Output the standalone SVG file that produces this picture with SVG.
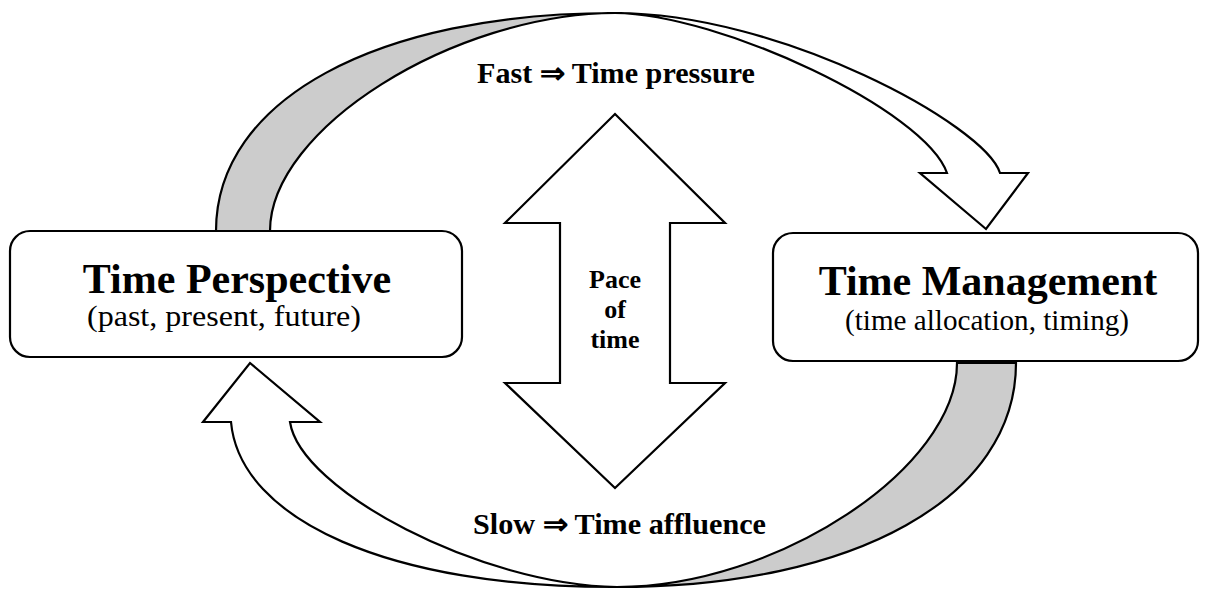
<svg xmlns="http://www.w3.org/2000/svg" width="1206" height="594" viewBox="0 0 1206 594">
<style>
.ln{stroke:#000;stroke-width:2.2;stroke-linejoin:miter}
.back{fill:#cccccc}
.front{fill:#fff}
.box{fill:#fff;stroke:#000;stroke-width:2.2}
.t{font-family:"Liberation Serif","Times New Roman",serif;fill:#000;text-anchor:middle}
.s{text-anchor:start}
.title{font-size:42px;font-weight:bold}
.sub{font-size:30px}
.lab{font-size:29px;font-weight:bold}
.pace{font-size:26px;font-weight:bold}
</style>
<rect width="1206" height="594" fill="#fff"/>
<g id="connectors">
  <g id="arrow-top">
    <path class="ln back" d="M216,231 C216,100 376,13 615,13 C453,14 270,129 270,231 Z"/>
    <path class="ln front" d="M615,13 C780,13 985,125 1000,173 L1028,173 L986,229 L920,173 L947,173 C925,110 720,14 615,13 Z"/>
  </g>
  <g id="arrow-bottom">
    <path class="ln back" d="M1016,363 C1016,497 856,587 617,587 C777,587 957,468 957,363 Z"/>
    <path class="ln front" d="M617,587 C390,588 240,520 231,422 L203,422 L250,363 L320,422 L290,422 C300,490 480,585 617,587 Z"/>
  </g>
  <g id="pace-arrow">
    <polygon class="ln front" points="615,114 725,223 670,223 670,383 725,383 615,488 505,383 560,383 560,223 505,223"/>
    <text class="t pace" x="615" y="288">Pace</text>
    <text class="t pace" x="615" y="318">of</text>
    <text class="t pace" x="615" y="348">time</text>
  </g>
</g>
<g id="node-time-perspective">
  <rect class="box" x="10" y="231" width="452" height="126" rx="20" ry="20"/>
  <text class="t title" x="237" y="293">Time Perspective</text>
  <text class="t sub s" x="87" y="326" textLength="274" lengthAdjust="spacingAndGlyphs">(past, present, future)</text>
</g>
<g id="node-time-management">
  <rect class="box" x="773" y="233" width="425" height="128" rx="20" ry="20"/>
  <text class="t title" x="988" y="295">Time Management</text>
  <text class="t sub s" x="845" y="330" textLength="284" lengthAdjust="spacingAndGlyphs">(time allocation, timing)</text>
</g>
<g id="label-fast">
  <text class="t lab s" x="477" y="83" textLength="278" lengthAdjust="spacingAndGlyphs">Fast ⇒ Time pressure</text>
</g>
<g id="label-slow">
  <text class="t lab s" x="473" y="534" textLength="293" lengthAdjust="spacingAndGlyphs">Slow ⇒ Time affluence</text>
</g>
</svg>
